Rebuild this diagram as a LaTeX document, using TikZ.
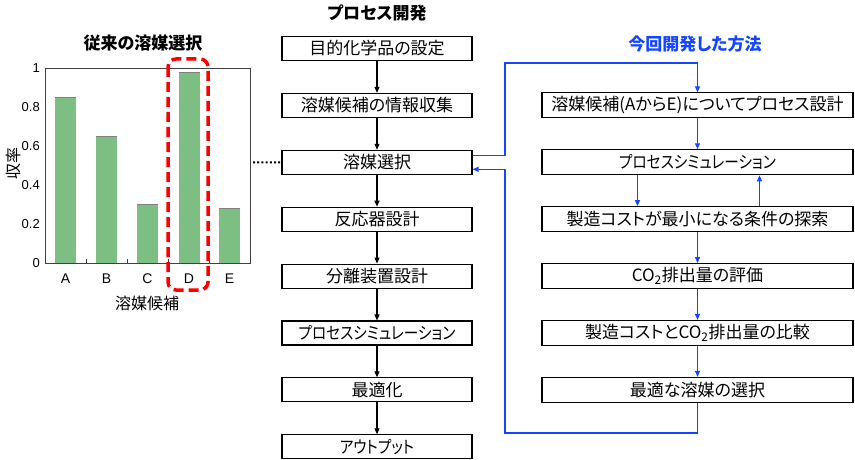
\documentclass[tikz,border=0pt]{standalone}
\usepackage{fontspec}
\setmainfont{Noto Sans CJK JP}[RawFeature=+palt]
\newfontfamily\narrowfont{Noto Sans CJK JP}[RawFeature=+palt, FakeStretch=0.86]
\newfontfamily\numfont{Liberation Sans}
\usetikzlibrary{arrows.meta,positioning}
\definecolor{flowblue}{RGB}{20,70,255}
\definecolor{bargreen}{RGB}{125,190,130}
\tikzset{
  proc/.style={draw=black, line width=1.1pt, minimum height=24pt, inner sep=0pt,
    font=\fontsize{17}{20}\selectfont},
  mproc/.style={proc, minimum width=190pt},
  rproc/.style={proc, minimum width=311pt, minimum height=25pt},
  flow/.style={-{Triangle[length=6pt,width=5pt]}, line width=1.1pt},
  bflow/.style={flow, draw=flowblue, line width=1.3pt},
  ttl/.style={font=\fontsize{17}{20}\selectfont\bfseries},
}
\begin{document}
\begin{tikzpicture}[x=1pt,y=-1pt]
\useasboundingbox (0,0) rectangle (855,460);

% titles
\node[ttl] (ttlc) at (143,43) {従来の溶媒選択};
\node[ttl] (ttlm) at (377,13) {プロセス開発};
\node[ttl, text=flowblue] (ttlr) at (695,44) {今回開発した方法};

% chart
\foreach \x/\h/\l in {65.5/0.85/A,106.5/0.65/B,147.5/0.30/C,189/0.98/D,229.5/0.28/E}{
\fill[bargreen] (\x-10.5,263) rectangle (\x+10.5,{263-195*\h});
\draw[gray, line width=0.8pt] (\x-10.5,{263-195*\h}) -- (\x+10.5,{263-195*\h});
\node[font=\numfont\fontsize{14}{16}\selectfont] (cat\l) at (\x,279) {\l};
}
\draw[line width=0.8pt, black!75] (45,68) rectangle (250,263);
\foreach \x in {86,127,168,209}{
\draw[line width=0.8pt, black!75] (\x,263) -- (\x,259);}
\foreach \v [count=\k] in {0,0.2,0.4,0.6,0.8,1}{
\node[left, inner sep=2pt, font=\numfont\fontsize{13}{15}\selectfont] (ytick\k) at (42,{263-195*\v}) {\v};}
\node[rotate=90, font=\fontsize{16}{18}\selectfont] (ylab) at (13,163) {収率};
\node[font=\fontsize{16}{18}\selectfont] (xlab) at (147,303) {溶媒候補};
\draw[red, line width=3.5pt, dash pattern=on 10pt off 5pt, rounded corners=8pt] (168,59) rectangle (208,290);

% process column
\foreach \i/\t in {1/目的化学品の設定,2/溶媒候補の情報収集,3/溶媒選択,4/反応器設計,
  5/分離装置設計,6/{\narrowfont プロセスシミュレーション},7/最適化,8/{\narrowfont アウトプット}}{
\node[mproc] (m\i) at (377,{48.5+56.9*(\i-1)}) {\t};}
\foreach \a/\b in {1/2,2/3,3/4,4/5,5/6,6/7,7/8}{
\draw[flow] (m\a) -- (m\b);}

\coordinate (dotend) at (253,162.3);
\draw[line width=2pt, dash pattern=on 2pt off 2.2pt] (dotend) -- (m3.west);

% new method column
\foreach \i/\t in {1/溶媒候補(AからE)についてプロセス設計,2/{\narrowfont プロセスシミュレーション},
  3/製造コストが最小になる条件の探索,4/CO\textsubscript{2}排出量の評価,
  5/製造コストとCO\textsubscript{2}排出量の比較,6/最適な溶媒の選択}{
\node[rproc] (r\i) at (697.5,{48.5+56.9*\i}) {\t};}
\foreach \a/\b in {1/2,3/4,4/5,5/6}{
\draw[bflow] (r\a) -- (r\b);}
\draw[bflow] ([xshift=-60pt]r2.south) -- ([xshift=-60pt]r3.north);
\draw[bflow] ([xshift=62pt]r3.north) -- ([xshift=62pt]r2.south);

\draw[bflow] ([yshift=7pt]m3.east) -| (505,63) -| (r1.north);
\draw[bflow] (r6.south) |- (505,433) |- ([yshift=-7pt]m3.east);
\end{tikzpicture}
\end{document}
